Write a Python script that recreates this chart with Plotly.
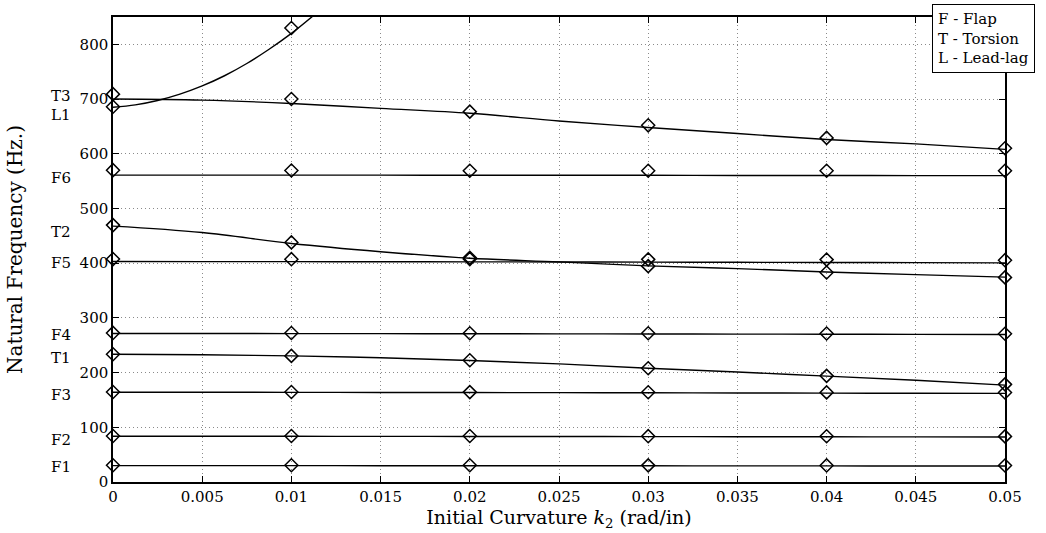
import plotly.graph_objects as go

# Marker (computed) points
k_pts = [0.0, 0.01, 0.02, 0.03, 0.04, 0.05]
F1_pts = [30.5, 30.5, 30.5, 30.4, 30.3, 30.2]
F2_pts = [84.1, 84.0, 84.0, 83.8, 83.6, 83.4]
F3_pts = [164.6, 164.5, 164.3, 164.0, 163.8, 163.5]
T1_pts = [233.5, 230.5, 222.5, 208.0, 194.0, 178.5]
F4_pts = [272.5, 272.3, 272.0, 272.0, 271.5, 271.0]
F5_pts = [407.5, 407.3, 407.5, 407.0, 406.5, 405.5]
T2_pts = [469.6, 438.0, 410.0, 394.6, 383.0, 374.0]
F6_pts = [570.0, 569.5, 569.0, 569.0, 569.0, 569.0]
T3_pts = [709.0, 700.0, 677.0, 652.0, 629.0, 610.0]
L1_k_pts = [0.0, 0.01]
L1_pts = [686.0, 830.0]

# Line (model) curves
k_line = [0.0, 0.005, 0.01, 0.015, 0.02, 0.025, 0.03, 0.035, 0.04, 0.045, 0.05]
F1_line = [30.0, 30.0, 29.9, 29.8, 29.8, 29.7, 29.6, 29.5, 29.4, 29.3, 29.3]
F2_line = [83.6, 83.6, 83.5, 83.4, 83.3, 83.1, 83.0, 82.8, 82.6, 82.4, 82.3]
F3_line = [164.0, 164.0, 163.9, 163.7, 163.5, 163.3, 163.1, 162.8, 162.5, 162.2, 162.0]
T1_line = [233.5, 232.5, 230.5, 227.0, 222.0, 216.0, 208.0, 201.0, 193.5, 186.0, 177.0]
F4_line = [271.4, 271.4, 271.3, 271.2, 271.0, 270.8, 270.6, 270.4, 270.1, 269.9, 269.6]
F5_line = [403.0, 402.9, 402.8, 402.6, 402.4, 402.2, 401.9, 401.6, 401.3, 401.0, 400.6]
T2_line = [467.7, 456.0, 436.0, 421.0, 409.0, 402.4, 395.0, 390.0, 384.0, 379.0, 374.5]
F6_line = [561.0, 561.0, 561.0, 560.9, 560.8, 560.7, 560.6, 560.4, 560.3, 560.1, 560.0]
T3_line = [700.0, 698.0, 692.0, 683.0, 674.0, 660.0, 648.0, 637.0, 626.0, 618.0, 608.0]
k_L1_line = [0.0, 0.00125, 0.0025, 0.00375, 0.005, 0.00625, 0.0075, 0.00875, 0.01, 0.01125]
L1_line = [685.0, 689.4, 697.4, 709.0, 724.0, 742.6, 765.0, 791.0, 820.0, 853.0]

# Mode labels (left of axis)
mode_labels = ["T3", "L1", "F6", "T2", "F5", "F4", "T1", "F3", "F2", "F1"]
mode_label_y = [706, 671, 555, 456.6, 399.9, 268.3, 226.2, 158.6, 76.3, 28.3]

x_ticks = [0, 0.005, 0.01, 0.015, 0.02, 0.025, 0.03, 0.035, 0.04, 0.045, 0.05]
x_tick_text = ["0", "0.005", "0.01", "0.015", "0.02", "0.025", "0.03", "0.035", "0.04", "0.045", "0.05"]
y_ticks = [0, 100, 200, 300, 400, 500, 600, 700, 800]

FONT = "DejaVu Serif"

fig = go.Figure()

lines = [(k_line, F1_line), (k_line, F2_line), (k_line, F3_line), (k_line, T1_line),
         (k_line, F4_line), (k_line, F5_line), (k_line, T2_line), (k_line, F6_line),
         (k_line, T3_line), (k_L1_line, L1_line)]
for xs, ys in lines:
    fig.add_trace(go.Scatter(x=xs, y=ys, mode="lines", line=dict(color="black", width=1.4),
                             line_shape="spline", showlegend=False, hoverinfo="skip"))

pts = [(k_pts, F1_pts), (k_pts, F2_pts), (k_pts, F3_pts), (k_pts, T1_pts), (k_pts, F4_pts),
       (k_pts, F5_pts), (k_pts, T2_pts), (k_pts, F6_pts), (k_pts, T3_pts), (L1_k_pts, L1_pts)]
for xs, ys in pts:
    fig.add_trace(go.Scatter(x=xs, y=ys, mode="markers",
                             marker=dict(symbol="diamond-open", size=10, color="black",
                                         line=dict(width=1.5, color="black")),
                             cliponaxis=False, showlegend=False))

for lab, yv in zip(mode_labels, mode_label_y):
    fig.add_annotation(x=0, xref="paper", y=yv, yref="y", text=lab, showarrow=False,
                       xanchor="right", yanchor="middle", xshift=-40,
                       font=dict(family=FONT, size=15, color="black"))

fig.add_annotation(x=0.918, xref="paper", y=1.028, yref="paper",
                   text="F - Flap<br>T - Torsion<br>L - Lead-lag", showarrow=False,
                   xanchor="left", yanchor="top", align="left",
                   bordercolor="black", borderwidth=1, borderpad=5, bgcolor="white",
                   font=dict(family=FONT, size=15, color="black"))

axis_common = dict(showline=True, linecolor="black", linewidth=1.5, mirror="ticks",
                   ticks="inside", ticklen=6, tickcolor="black", tickwidth=1,
                   showgrid=True, gridcolor="#8a8a8a", griddash="1px,3px", gridwidth=1,
                   zeroline=False, tickfont=dict(family=FONT, size=15, color="black"))

fig.update_xaxes(range=[0, 0.05], tickvals=x_ticks, ticktext=x_tick_text,
                 title=dict(text="Initial Curvature <i>k</i><sub>2</sub> (rad/in)",
                            font=dict(family=FONT, size=19, color="black"), standoff=2),
                 **axis_common)
fig.update_yaxes(range=[0, 850], tickvals=y_ticks,
                 title=dict(text="Natural Frequency (Hz.)",
                            font=dict(family=FONT, size=20, color="black"), standoff=52),
                 **axis_common)

fig.update_layout(width=1046, height=533, margin=dict(l=113, r=41, t=17, b=51),
                  plot_bgcolor="white", paper_bgcolor="white",
                  font=dict(family=FONT, color="black"))

fig.write_html("out.html")
